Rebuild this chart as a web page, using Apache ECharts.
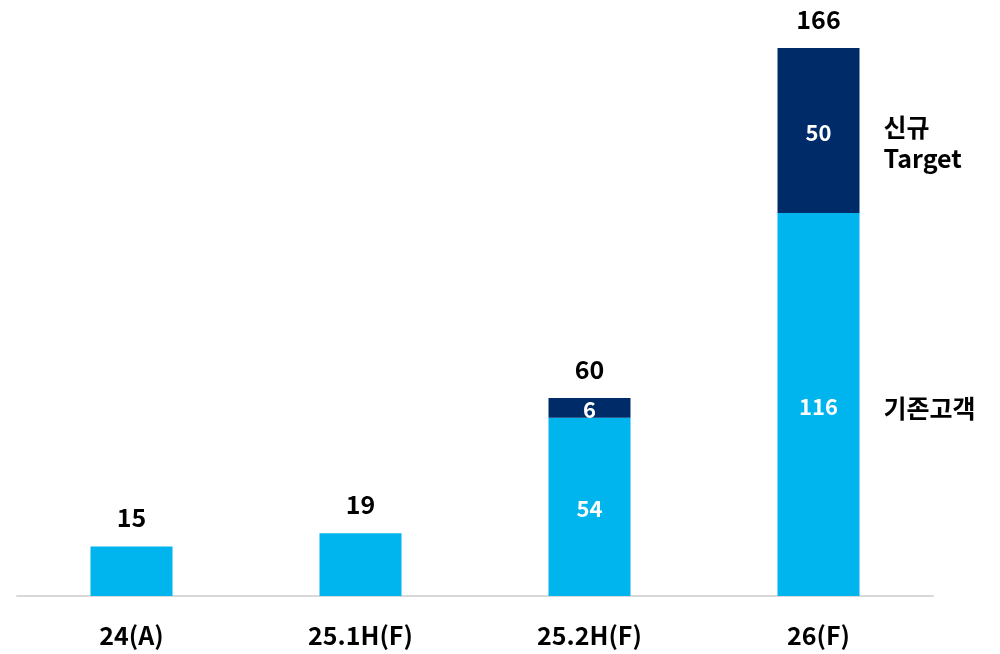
<!DOCTYPE html>
<html><head><meta charset="utf-8">
<script src="https://cdn.jsdelivr.net/npm/echarts@6/dist/echarts.min.js"></script>
<style>html,body{margin:0;padding:0;background:#fff}#c{width:1000px;height:654px}</style>
</head><body><div id="c"></div>
<script>
const categories = ['24(A)', '25.1H(F)', '25.2H(F)', '26(F)'];
const existing = [15, 19, 54, 116];
const newTarget = [null, null, 6, 50];
const totals = [15, 19, 60, 166];
const showInside = [false, false, true, true];
const seriesNames = ['기존고객', '신규\nTarget'];

const FONT = '"Noto Sans CJK KR", "Noto Sans", sans-serif';
const LIGHT = '#00B4EE';
const NAVY = '#002B69';

const chart = echarts.init(document.getElementById('c'));
const insideLabel = {color: '#fff', fontFamily: FONT, fontWeight: 'bold', fontSize: 22, position: 'inside', offset: [0, 2]};
chart.setOption({
  animation: false,
  grid: {left: 17, right: 67, top: 48, bottom: 58},
  xAxis: {
    type: 'category', data: categories,
    axisLine: {lineStyle: {color: '#D9D9D9', width: 2}},
    axisTick: {show: false},
    axisLabel: {color: '#000', fontFamily: FONT, fontWeight: 'bold', fontSize: 25, margin: 27}
  },
  yAxis: {type: 'value', min: 0, max: 166, show: false, splitLine: {show: false}},
  series: [
    {
      name: seriesNames[0], type: 'bar', stack: 's', barWidth: 82,
      itemStyle: {color: LIGHT},
      data: existing.map((v, i) => ({value: v, label: Object.assign({show: showInside[i]}, insideLabel)}))
    },
    {
      name: seriesNames[1], type: 'bar', stack: 's', barWidth: 82,
      itemStyle: {color: NAVY},
      data: newTarget.map((v) => ({value: v, label: Object.assign({show: v != null}, insideLabel)}))
    },
    {
      name: 'total', type: 'bar', stack: 's', barWidth: 82,
      itemStyle: {color: 'transparent'},
      data: totals.map(() => 0),
      label: {
        show: true, position: 'top', distance: 16,
        color: '#000', fontFamily: FONT, fontWeight: 'bold', fontSize: 25,
        formatter: (p) => String(totals[p.dataIndex])
      }
    }
  ]
});

// series-name labels beside the last bar, positioned through the chart's scales
const last = categories.length - 1;
const pBase = chart.convertToPixel({gridIndex: 0}, [last, existing[last] / 2]);
const pNew = chart.convertToPixel({gridIndex: 0}, [last, existing[last] + newTarget[last] / 2]);
const xText = pBase[0] + 41 + 24;
chart.setOption({
  graphic: [
    {type: 'text', x: xText, y: pBase[1] + 4, style: {text: seriesNames[0], fill: '#000', font: 'bold 25px ' + FONT, textVerticalAlign: 'middle', textAlign: 'left'}},
    {type: 'text', x: xText, y: pNew[1] + 12, style: {text: seriesNames[1], fill: '#000', font: 'bold 25px ' + FONT, textVerticalAlign: 'middle', textAlign: 'left', lineHeight: 31}}
  ]
});
</script></body></html>
